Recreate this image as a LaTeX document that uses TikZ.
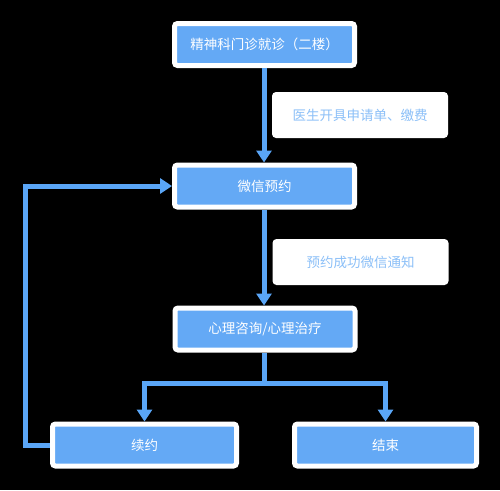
\documentclass[tikz,border=0pt]{standalone}
\usepackage{fontspec}
\setmainfont{Noto Sans CJK SC}
\usetikzlibrary{arrows.meta}
\definecolor{boxblue}{HTML}{64A9F5}
\definecolor{lineblue}{HTML}{5AA6F7}
\definecolor{tagblue}{HTML}{8CC0F8}

\begin{document}
\begin{tikzpicture}[x=1pt,y=-1pt,
  box/.style={draw=white,line width=5pt,fill=boxblue,rounded corners=3pt,text=white,minimum width=180pt,minimum height=42pt},
  tag/.style={fill=white,rounded corners=4pt,text=tagblue,minimum width=176pt,minimum height=46pt},
  link/.style={draw=lineblue,line width=5pt,-{Triangle[width=15pt,length=12pt]}}]
\tikzstyle{every node}+=[inner sep=0pt,font=\fontsize{13.5pt}{16pt}\selectfont]
\fill [black] (0,0) rectangle (500,490);
\node [box] (clinic) at (264.5,44.5) {精神科门诊就诊（二楼）};
\node [box] (wechat) at (264.5,186) {微信预约};
\node [box] (therapy) at (265,329) {心理咨询/心理治疗};
\node [box,minimum width=184pt] (renew) at (144.5,445) {续约};
\node [box,minimum width=182pt] (finish) at (385.5,445) {结束};
\node [tag] (order) at (360,115) {医生开具申请单、缴费};
\node [tag] (notice) at (360.5,262) {预约成功微信通知};
% main flow
\draw [link] (clinic.south -| 264,0) -- (wechat.north -| 264,0);
\draw [link] (wechat.south -| 264,0) -- (therapy.north -| 264,0);
\coordinate (split) at (264,383);
\draw [link] (therapy.south -| split) -- (split) -| (renew.north);
\draw [link] (split) -| (finish.north);
% loop back
\draw [link] (renew.west) -- ++(-25,0) |- (wechat.west);
\end{tikzpicture}
\end{document}
